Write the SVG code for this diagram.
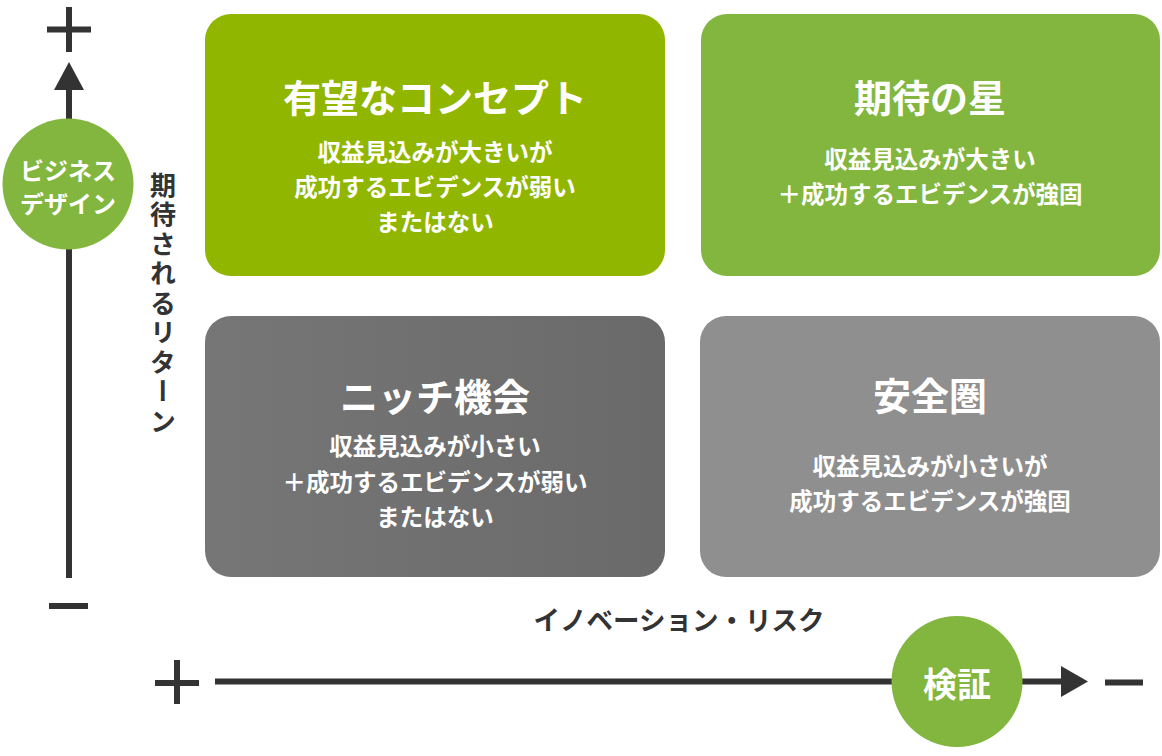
<svg xmlns="http://www.w3.org/2000/svg" width="1162" height="756" viewBox="0 0 1162 756">
<defs>
<style>
.t{font-family:"Noto Sans CJK JP","Noto Sans",sans-serif;font-weight:bold;text-anchor:middle;dominant-baseline:central}
.w{fill:#ffffff}
.d{fill:#333333}
.h{font-size:38px}
.s{font-size:23.5px}
.ax{stroke:#333333;stroke-width:6;fill:none}
.ar{fill:#333333}
</style>
<linearGradient id="gl" x1="0" y1="0" x2="1" y2="0">
<stop offset="0" stop-color="#767676"/>
<stop offset="1" stop-color="#6a6a6a"/>
</linearGradient>
</defs>
<rect width="1162" height="756" fill="#ffffff"/>
<g id="connectors">
<line class="ax" x1="69" y1="86" x2="69" y2="578"/>
<polygon class="ar" points="69,62 84,90 54,90"/>
<line class="ax" x1="215" y1="681.5" x2="1064" y2="681.5"/>
<polygon class="ar" points="1088,681.5 1061,666 1061,697"/>
</g>
<g id="axis-marks">
<path class="ax" d="M47,29.5 H91 M69,7 V52" stroke-width="7"/>
<path class="ax" d="M49,606 H88" stroke-width="6.5"/>
<path class="ax" d="M155,683 H199 M177,660 V704" stroke-width="6.5"/>
<path class="ax" d="M1105,682.5 H1143" stroke-width="7"/>
</g>
<g id="node-business">
<circle cx="68" cy="184" r="65.5" fill="#82b63e"/>
<text class="t w" x="68" y="169" font-size="24">ビジネス</text>
<text class="t w" x="68" y="202" font-size="24">デザイン</text>
</g>
<g id="node-verify">
<circle cx="957" cy="681.5" r="65.5" fill="#82b63e"/>
<text class="t w" x="957" y="682" font-size="34">検証</text>
</g>
<g id="label-return">
<text class="d" x="163" y="172" font-family="Noto Sans CJK JP, sans-serif" font-weight="bold" font-size="26" letter-spacing="3.5" writing-mode="vertical-rl">期待されるリターン</text>
</g>
<g id="label-risk">
<text class="t d" x="679" y="618" font-size="26.5">イノベーション・リスク</text>
</g>
<g id="node-promising">
<rect x="205" y="14" width="460" height="262" rx="26" fill="#90b600"/>
<text class="t w h" x="435" y="95">有望なコンセプト</text>
<text class="t w s" x="435" y="151">収益見込みが大きいが</text>
<text class="t w s" x="435" y="186">成功するエビデンスが弱い</text>
<text class="t w s" x="435" y="221">またはない</text>
</g>
<g id="node-star">
<rect x="701" y="14" width="459" height="262" rx="26" fill="#82b63e"/>
<text class="t w h" x="930" y="95">期待の星</text>
<text class="t w s" x="930" y="158">収益見込みが大きい</text>
<text class="t w s" x="930" y="193">＋成功するエビデンスが強固</text>
</g>
<g id="node-niche">
<rect x="205" y="316" width="460" height="261" rx="26" fill="url(#gl)"/>
<text class="t w h" x="435" y="394">ニッチ機会</text>
<text class="t w s" x="435" y="445">収益見込みが小さい</text>
<text class="t w s" x="435" y="481">＋成功するエビデンスが弱い</text>
<text class="t w s" x="435" y="516">またはない</text>
</g>
<g id="node-safe">
<rect x="700" y="316" width="460" height="261" rx="26" fill="#8f8f8f"/>
<text class="t w h" x="930" y="393">安全圏</text>
<text class="t w s" x="930" y="465">収益見込みが小さいが</text>
<text class="t w s" x="930" y="500">成功するエビデンスが強固</text>
</g>
</svg>
